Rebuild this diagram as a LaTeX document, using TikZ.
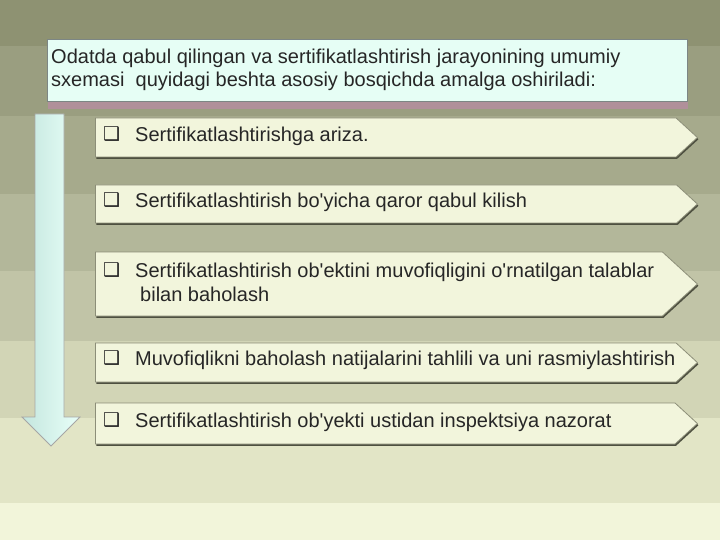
\documentclass[tikz,border=0pt]{standalone}
\usepackage{fontspec}
\setmainfont{Liberation Sans}
\newfontfamily\boxfont{DejaVu Sans}
\usetikzlibrary{shapes.symbols, shadows}

\definecolor{bandA}{HTML}{8E9272}
\definecolor{bandB}{HTML}{9A9E80}
\definecolor{bandC}{HTML}{A6AA8C}
\definecolor{bandD}{HTML}{B3B79A}
\definecolor{bandE}{HTML}{C1C4A7}
\definecolor{bandF}{HTML}{D2D5B6}
\definecolor{bandG}{HTML}{E2E5C6}
\definecolor{bandH}{HTML}{F2F5DA}
\definecolor{headfill}{HTML}{E6FEF5}
\definecolor{headline}{HTML}{7C8684}
\definecolor{headshade}{HTML}{B0909A}
\definecolor{stepfill}{HTML}{F2F5DC}
\definecolor{stepline}{HTML}{8C8E78}
\definecolor{stepshade}{HTML}{4E5040}
\definecolor{inkgray}{HTML}{262626}
\definecolor{arrowleft}{HTML}{C4E6DE}
\definecolor{arrowright}{HTML}{E8FFF8}

\newcommand{\bul}{\makebox[32pt][l]{\raisebox{1pt}{\fontsize{19}{19}\boxfont ❑}}}
\newcommand{\ap}{\textquotesingle}

\tikzset{
    headbox/.style={draw=headline, line width=1pt, fill=headfill, anchor=north west,
        drop shadow={shadow xshift=0pt, shadow yshift=-8pt, fill=headshade, opacity=1}},
    stepbox/.style={shape=signal, signal to=east, signal pointer angle=85, draw=stepline,
        line width=0.8pt, fill=stepfill, anchor=west, minimum width=602pt, inner sep=0pt,
        drop shadow={shadow xshift=1pt, shadow yshift=-1.8pt, fill=stepshade, opacity=1}},
    steptext/.style={anchor=west, align=left, inner sep=0pt, text=inkgray,
        font=\fontsize{20}{24}\selectfont},
    flowarrow/.style={draw=gray!70, line width=0.8pt, left color=arrowleft, right color=arrowright}
}

\begin{document}
\begin{tikzpicture}[x=1pt, y=-1pt]

    \useasboundingbox (0,0) rectangle (720,540);

    \foreach \ytop/\ybot/\col in {0/46/bandA, 46/116/bandB, 116/194/bandC, 194/271/bandD,
        271/341/bandE, 341/418/bandF, 418/503/bandG, 503/540/bandH}
        \fill[\col] (0,\ytop) rectangle (720,\ybot+0.5);

    \path node (head) [headbox, minimum width=640pt, minimum height=62pt] at (47,39) {};
    \path node (headtext) [steptext, anchor=north west, font=\fontsize{20}{23}\selectfont] at (51,48.5)
        {Odatda qabul qilingan va sertifikatlashtirish jarayonining umumiy\\
         sxemasi\ \ quyidagi beshta asosiy bosqichda amalga oshiriladi:};

    \draw[flowarrow] (35,114) -- (64,114) -- (64,417) -- (80,417) -- (51,446)
        -- (22,417) -- (35,417) -- cycle;

    \path node (s1) [stepbox, minimum height=39pt] at (95,137.5) {};
    \path node (s2) [stepbox, minimum height=38pt] at (95,204) {};
    \path node (s3) [stepbox, minimum height=64pt] at (95,284) {};
    \path node (s4) [stepbox, minimum height=39pt] at (95,362.5) {};
    \path node (s5) [stepbox, minimum height=41pt] at (95,423.5) {};

    \path node (t1) [steptext] at (103,136) {\bul Sertifikatlashtirishga ariza.};
    \path node (t2) [steptext] at (103,202.5) {\bul Sertifikatlashtirish bo\ap yicha qaror qabul kilish};
    \path node (t3) [steptext] at (103,282)
        {\bul Sertifikatlashtirish ob\ap ektini muvofiqligini o\ap rnatilgan talablar\\
         \hspace*{37pt}bilan baholash};
    \path node (t4) [steptext] at (103,360) {\bul Muvofiqlikni baholash natijalarini tahlili va uni rasmiylashtirish};
    \path node (t5) [steptext] at (103,422) {\bul Sertifikatlashtirish ob\ap yekti ustidan inspektsiya nazorat};

\end{tikzpicture}
\end{document}
